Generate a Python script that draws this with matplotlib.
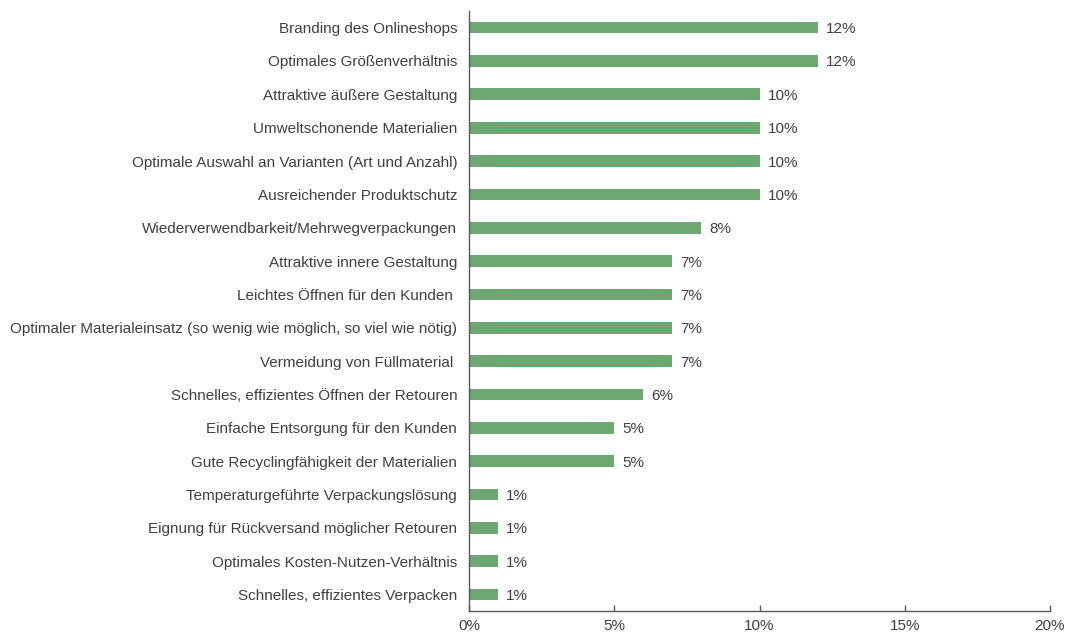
import matplotlib
matplotlib.use("Agg")
import matplotlib.pyplot as plt
from matplotlib.ticker import FuncFormatter

categories = [
    "Branding des Onlineshops",
    "Optimales Größenverhältnis",
    "Attraktive äußere Gestaltung",
    "Umweltschonende Materialien",
    "Optimale Auswahl an Varianten (Art und Anzahl)",
    "Ausreichender Produktschutz",
    "Wiederverwendbarkeit/Mehrwegverpackungen",
    "Attraktive innere Gestaltung",
    "Leichtes Öffnen für den Kunden ",
    "Optimaler Materialeinsatz (so wenig wie möglich, so viel wie nötig)",
    "Vermeidung von Füllmaterial ",
    "Schnelles, effizientes Öffnen der Retouren",
    "Einfache Entsorgung für den Kunden",
    "Gute Recyclingfähigkeit der Materialien",
    "Temperaturgeführte Verpackungslösung",
    "Eignung für Rückversand möglicher Retouren",
    "Optimales Kosten-Nutzen-Verhältnis",
    "Schnelles, effizientes Verpacken",
]
values = [12, 12, 10, 10, 10, 10, 8, 7, 7, 7, 7, 6, 5, 5, 1, 1, 1, 1]
x_ticks = [0, 5, 10, 15, 20]

plt.rcParams['font.family'] = ['Liberation Sans', 'DejaVu Sans']
text_color = '#404040'
bar_color = '#6DA873'
spine_color = '#595959'
fs = 11

fig = plt.figure(figsize=(10.65, 6.32), dpi=100)
ax = fig.add_axes([0.4404, 0.0332, 0.5455, 0.9494])

n = len(categories)
ypos = list(range(n))
ax.barh(ypos, values, height=0.35, color=bar_color)
ax.set_ylim(n - 0.5, -0.5)
ax.set_xlim(0, 20)

for y, v in zip(ypos, values):
    ax.text(v + 0.28, y, f"{v}%", va='center_baseline', ha='left', fontsize=fs, color=text_color)

ax.set_yticks(ypos)
ax.set_yticklabels(categories, fontsize=fs, color=text_color, va='center_baseline')
ax.tick_params(axis='y', length=0, pad=8.5)
ax.set_xticks(x_ticks)
ax.xaxis.set_major_formatter(FuncFormatter(lambda v, p: f"{int(v)}%"))
ax.tick_params(axis='x', direction='in', length=4, width=1, color=spine_color,
               labelsize=fs, labelcolor=text_color, pad=6)

for s in ['top', 'right']:
    ax.spines[s].set_visible(False)
for s in ['left', 'bottom']:
    ax.spines[s].set_color(spine_color)
    ax.spines[s].set_linewidth(1)

fig.savefig('out.png', dpi=100)
